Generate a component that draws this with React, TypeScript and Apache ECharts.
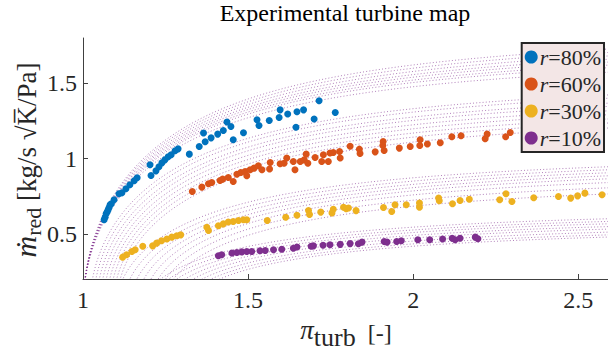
import React, { useEffect, useRef } from 'react';
import * as echarts from 'echarts';

// ---- measured data (pressure ratio pi_turb, reduced mass flow) ----
const seriesNames = ['r=80%', 'r=60%', 'r=30%', 'r=10%'];
const seriesColors = ['#0072BD', '#D95319', '#EDB120', '#7E2F8E'];

const r80: [number, number][] = [
  [1.064, 0.593], [1.067, 0.61], [1.070, 0.633], [1.073, 0.645], [1.076, 0.659], [1.079, 0.675],
  [1.082, 0.693], [1.086, 0.70], [1.094, 0.726], [1.109, 0.766], [1.118, 0.772], [1.130, 0.799],
  [1.142, 0.826], [1.155, 0.852], [1.164, 0.872], [1.203, 0.958], [1.206, 0.887], [1.221, 0.918],
  [1.230, 0.945], [1.239, 0.971], [1.248, 0.991], [1.258, 1.011], [1.267, 1.025], [1.279, 1.051],
  [1.288, 1.064], [1.322, 1.029], [1.352, 1.080], [1.365, 1.169], [1.370, 1.111], [1.388, 1.137],
  [1.408, 1.162], [1.425, 1.186], [1.436, 1.242], [1.448, 1.212], [1.455, 1.124], [1.486, 1.171],
  [1.527, 1.257], [1.533, 1.219], [1.564, 1.252], [1.594, 1.272], [1.597, 1.323], [1.620, 1.295],
  [1.645, 1.208], [1.648, 1.310], [1.668, 1.323], [1.700, 1.262], [1.715, 1.383], [1.764, 1.305],
];

const r60: [number, number][] = [
  [1.331, 0.781], [1.360, 0.810], [1.380, 0.832], [1.390, 0.841], [1.415, 0.854], [1.423, 0.863],
  [1.440, 0.874], [1.455, 0.847], [1.466, 0.896], [1.478, 0.907], [1.491, 0.914], [1.506, 0.925],
  [1.518, 0.936], [1.531, 0.952], [1.496, 0.885], [1.542, 0.925], [1.565, 0.930], [1.567, 0.973],
  [1.597, 0.965], [1.609, 0.969], [1.617, 1.003], [1.637, 0.980], [1.642, 0.925], [1.658, 0.980],
  [1.670, 0.991], [1.676, 1.029], [1.681, 0.969], [1.703, 1.007], [1.723, 0.980], [1.728, 1.025],
  [1.748, 1.036], [1.758, 1.040], [1.743, 0.980], [1.779, 1.003], [1.777, 1.046], [1.809, 1.081],
  [1.837, 1.062], [1.839, 1.033], [1.885, 1.044], [1.909, 1.113], [1.912, 1.053], [1.908, 1.086],
  [1.958, 1.069], [1.991, 1.080], [2.020, 1.086], [2.021, 1.124], [2.043, 1.096], [2.082, 1.104],
  [2.117, 1.144], [2.145, 1.151], [2.218, 1.131], [2.224, 1.162], [2.280, 1.144], [2.294, 1.173],
];

const r30: [number, number][] = [
  [1.120, 0.345], [1.132, 0.361], [1.148, 0.382], [1.158, 0.394], [1.181, 0.417], [1.211, 0.420],
  [1.223, 0.438], [1.238, 0.454], [1.254, 0.465], [1.269, 0.478], [1.284, 0.487], [1.296, 0.493],
  [1.375, 0.544], [1.380, 0.522], [1.410, 0.553], [1.425, 0.566], [1.440, 0.578], [1.455, 0.582],
  [1.471, 0.588], [1.486, 0.593], [1.496, 0.593], [1.558, 0.588], [1.614, 0.610], [1.648, 0.623],
  [1.683, 0.655], [1.686, 0.628], [1.720, 0.644], [1.754, 0.639], [1.758, 0.663], [1.789, 0.676],
  [1.797, 0.666], [1.804, 0.671], [1.827, 0.654], [1.910, 0.675], [1.935, 0.648], [1.945, 0.693],
  [1.979, 0.693], [2.019, 0.704], [2.019, 0.677], [2.077, 0.737], [2.079, 0.719], [2.119, 0.699],
  [2.142, 0.721], [2.170, 0.730], [2.262, 0.726], [2.281, 0.766], [2.299, 0.714], [2.365, 0.739],
  [2.440, 0.748], [2.477, 0.737], [2.498, 0.752], [2.520, 0.770], [2.572, 0.759],
];

const r10: [number, number][] = [
  [1.410, 0.354], [1.420, 0.361], [1.451, 0.372], [1.466, 0.376], [1.481, 0.380], [1.496, 0.382],
  [1.511, 0.382], [1.536, 0.387], [1.552, 0.389], [1.577, 0.394], [1.602, 0.398], [1.637, 0.404],
  [1.648, 0.412], [1.691, 0.418], [1.698, 0.420], [1.727, 0.424], [1.748, 0.427], [1.779, 0.430],
  [1.809, 0.435], [1.834, 0.434], [1.845, 0.445], [1.912, 0.449], [1.921, 0.445], [1.950, 0.449],
  [1.964, 0.454], [2.014, 0.460], [2.050, 0.460], [2.089, 0.465], [2.118, 0.471], [2.127, 0.460],
  [2.142, 0.470], [2.188, 0.478], [2.196, 0.467],
];

const xTicks = [1, 1.5, 2, 2.5];
const yTicks = [0.5, 1, 1.5];

// ---- dotted model lines (turbine ellipse law), coefficients ----
// each line: flow coefficient k and onset pressure ratio p0
const curveK = [
  1.872, 1.847, 1.822, 1.798, 1.778, 1.756, 1.737, 1.705,
  1.547, 1.526, 1.493, 1.472, 1.443, 1.417, 1.389, 1.362, 1.328,
  1.044, 1.026, 1.008, 0.990, 0.972, 0.948, 0.913, 0.871,
  0.674, 0.657, 0.642, 0.624, 0.608, 0.588, 0.570, 0.556,
];
const curveP0 = [
  1.0, 1.0, 1.0, 1.0, 1.0, 1.0, 1.0, 1.0,
  1.02, 1.03, 1.04, 1.05, 1.06, 1.07, 1.08, 1.09, 1.10,
  1.10, 1.12, 1.14, 1.16, 1.18, 1.20, 1.22, 1.24,
  1.18, 1.20, 1.22, 1.24, 1.26, 1.28, 1.30, 1.32,
];

const FONT = "'Liberation Serif', 'DejaVu Serif', serif";

function modelLine(k: number, p0: number): [number, number][] {
  const pts: [number, number][] = [];
  const n = 60;
  for (let i = 0; i <= n; i++) {
    const t = i / n;
    const p = p0 + (2.62 - p0) * t * t;
    const v = 1 - (p0 / p) * (p0 / p);
    pts.push([p, k * Math.sqrt(Math.max(v, 0))]);
  }
  return pts;
}

export default function App() {
  const ref = useRef<HTMLDivElement>(null);
  useEffect(() => {
    if (!ref.current) return;
    const chart = echarts.init(ref.current, undefined, { renderer: 'svg' });
    const lineSeries = curveK.map((k, i) => ({
      type: 'line',
      data: modelLine(k, curveP0[i]),
      showSymbol: false,
      silent: true,
      clip: true,
      z: 1,
      lineStyle: { color: 'rgba(126,47,142,0.6)', width: 1, type: [1, 2.2] },
    }));
    const scatterData = [r80, r60, r30, r10];
    const scatterSeries = scatterData.map((d, i) => ({
      type: 'scatter',
      name: seriesNames[i],
      data: d,
      symbol: 'circle',
      symbolSize: 7,
      z: 3,
      itemStyle: { color: seriesColors[i], opacity: 1 },
    }));
    chart.setOption({
      animation: false,
      grid: { left: 83, right: 0, top: 38, bottom: 75, outerBoundsMode: 'none' },
      xAxis: {
        type: 'value', min: 1, max: 2.59,
        axisLine: { show: true, lineStyle: { color: '#404040', width: 1 } },
        axisTick: { show: true, inside: true, length: 5, customValues: xTicks, lineStyle: { color: '#404040' } },
        axisLabel: { customValues: xTicks, fontSize: 24, fontFamily: FONT, color: '#262626', margin: 9 },
        splitLine: { show: false },
      },
      yAxis: {
        type: 'value', min: 0.2, max: 1.8,
        axisLine: { show: true, lineStyle: { color: '#404040', width: 1 } },
        axisTick: { show: true, inside: true, length: 5, customValues: yTicks, lineStyle: { color: '#404040' } },
        axisLabel: { customValues: yTicks, fontSize: 24, fontFamily: FONT, color: '#262626', margin: 6 },
        splitLine: { show: false },
      },
      legend: {
        data: seriesNames,
        orient: 'vertical',
        right: 4,
        top: 43,
        padding: [3, 3, 3, 3],
        itemGap: 5,
        itemWidth: 13,
        itemHeight: 13,
        icon: 'circle',
        backgroundColor: '#f3e6e6',
        borderColor: '#262626',
        borderWidth: 2,
        formatter: (name: string) => '{i|r}{n|' + name.slice(1) + '}',
        textStyle: {
          fontFamily: FONT, fontSize: 22, color: '#262626', padding: [0, 0, 0, -3],
          rich: {
            i: { fontFamily: FONT, fontSize: 22, fontStyle: 'italic', color: '#262626' },
            n: { fontFamily: FONT, fontSize: 22, color: '#262626' },
          },
        },
      },
      graphic: [
        {
          type: 'text', x: 345, y: 13, z: 10,
          style: { text: 'Experimental turbine map', font: `24px ${FONT}`, fill: '#000', align: 'center', verticalAlign: 'middle' },
        },
        {
          type: 'text', x: 346, y: 333, z: 10,
          style: {
            text: '{p|π}{s|turb}{b|  [-]}', align: 'center', verticalAlign: 'middle', fill: '#262626',
            rich: {
              p: { font: `italic 27px ${FONT}`, fill: '#262626', verticalAlign: 'top', lineHeight: 34 },
              s: { font: `26px ${FONT}`, fill: '#262626', verticalAlign: 'bottom', lineHeight: 22 },
              b: { font: `24px ${FONT}`, fill: '#262626', verticalAlign: 'middle', lineHeight: 34 },
            },
          },
        },
        {
          type: 'text', x: 27, y: 160, rotation: Math.PI / 2, z: 10,
          style: {
            text: '{m|ṁ}{s|red}{b| [kg/s √K̅/Pa]}', align: 'center', verticalAlign: 'middle', fill: '#262626',
            rich: {
              m: { font: `italic 30px ${FONT}`, fill: '#262626', verticalAlign: 'top', lineHeight: 34 },
              s: { font: `22px ${FONT}`, fill: '#262626', verticalAlign: 'bottom', lineHeight: 20 },
              b: { font: `27px ${FONT}`, fill: '#262626', verticalAlign: 'middle', lineHeight: 34 },
            },
          },
        },
      ],
      series: [...lineSeries, ...scatterSeries],
    } as any);
    return () => chart.dispose();
  }, []);
  return (
    <div
      ref={ref}
      style={{ position: 'fixed', left: 0, top: 0, width: 608, height: 354, background: '#fff' }}
    />
  );
}
